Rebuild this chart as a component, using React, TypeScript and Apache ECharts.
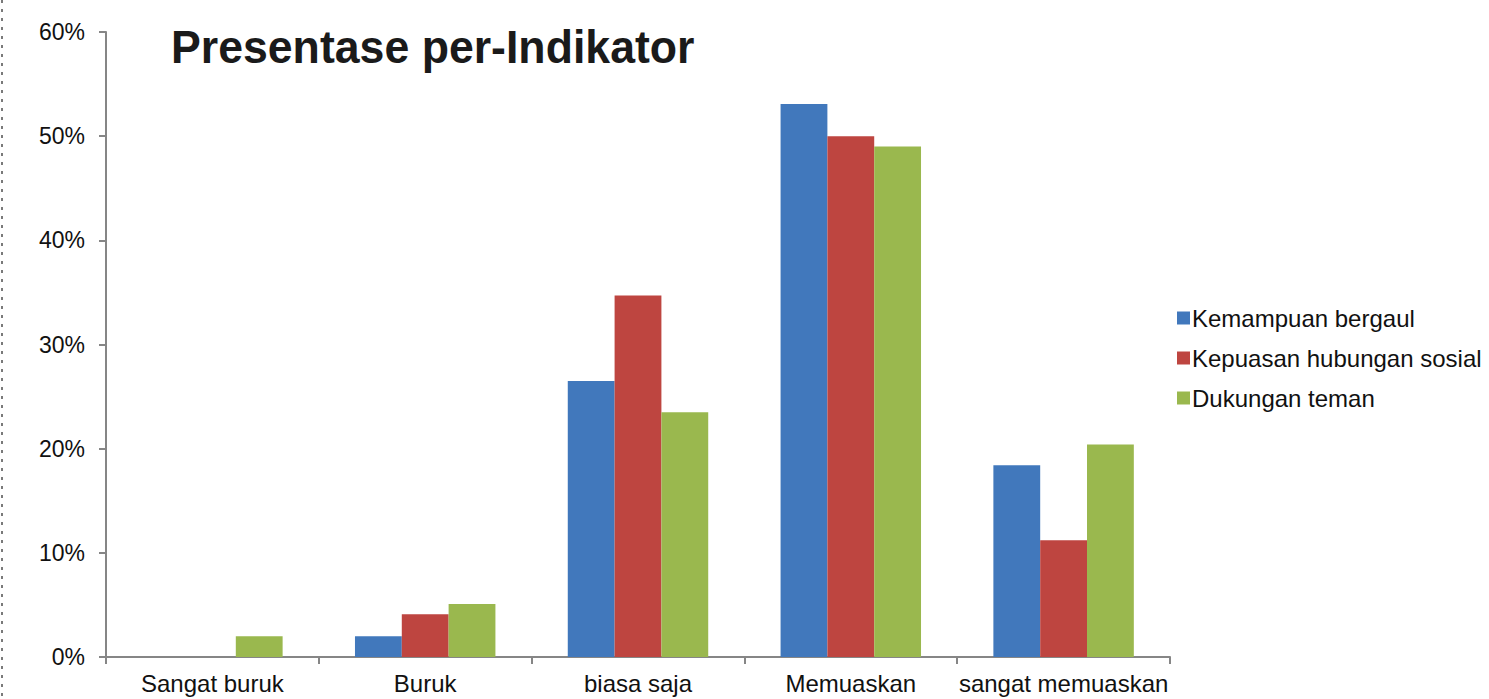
import React, { useEffect, useRef } from "react";
import * as echarts from "echarts";

const categories = ["Sangat buruk", "Buruk", "biasa saja", "Memuaskan", "sangat memuaskan"];
const seriesNames = ["Kemampuan bergaul", "Kepuasan hubungan sosial", "Dukungan teman"];
const kemampuan = [0, 2, 26.5, 53.1, 18.4];
const kepuasan = [0, 4.1, 34.7, 50.0, 11.2];
const dukungan = [2.0, 5.1, 23.5, 49.0, 20.4];
const colors = ["#4178BC", "#BE4540", "#9AB84E"];
const titleText = "Presentase per-Indikator";

export default function App() {
  const ref = useRef<HTMLDivElement>(null);
  useEffect(() => {
    if (!ref.current) return;
    const chart = echarts.init(ref.current, null, { renderer: "svg" });
    const data = [kemampuan, kepuasan, dukungan];
    chart.setOption({
      animation: false,
      backgroundColor: "#ffffff",
      textStyle: { fontFamily: "Liberation Sans, Arial, sans-serif" },
      grid: { left: 106, right: 319, top: 32, bottom: 42, containLabel: false },
      legend: {
        orient: "vertical",
        left: 1172,
        top: 301,
        itemWidth: 13,
        itemHeight: 13,
        itemGap: 16,
        icon: "rect",
        data: seriesNames,
        textStyle: { fontSize: 24, color: "#111", fontFamily: "Liberation Sans, Arial, sans-serif", padding: [0, 0, 0, -3] },
      },
      graphic: [
        {
          type: "line",
          shape: { x1: 2, y1: 0, x2: 2, y2: 699 },
          style: { stroke: "#7a7a7a", lineWidth: 2, lineDash: [3, 6] },
        },
        {
          type: "text",
          x: 171,
          y: 24,
          scaleX: 0.95,
          style: {
            text: titleText,
            fontFamily: "Liberation Sans, Arial, sans-serif",
            fontWeight: "bold",
            fontSize: 47,
            fill: "#1a1a1a",
            textVerticalAlign: "top",
          },
        },
      ],
      xAxis: {
        type: "category",
        data: categories,
        axisLine: { lineStyle: { color: "#868686", width: 2 } },
        axisTick: { show: true, length: 7, alignWithLabel: false, lineStyle: { color: "#868686", width: 2 } },
        axisLabel: { fontSize: 24, color: "#111", margin: 14, interval: 0 },
        splitLine: { show: false },
      },
      yAxis: {
        type: "value",
        min: 0,
        max: 60,
        interval: 10,
        axisLine: { show: true, lineStyle: { color: "#868686", width: 2 } },
        axisTick: { show: true, length: 7, lineStyle: { color: "#868686", width: 2 } },
        axisLabel: { fontSize: 23, color: "#111", margin: 21, formatter: "{value}%" },
        splitLine: { show: false },
      },
      series: seriesNames.map((name, i) => ({
        name,
        type: "bar",
        data: data[i],
        barGap: "0%",
        barCategoryGap: "34%",
        itemStyle: { color: colors[i] },
      })),
    });
    return () => chart.dispose();
  }, []);
  return <div ref={ref} style={{ position: "fixed", left: 0, top: 0, width: 1489, height: 699 }} />;
}
